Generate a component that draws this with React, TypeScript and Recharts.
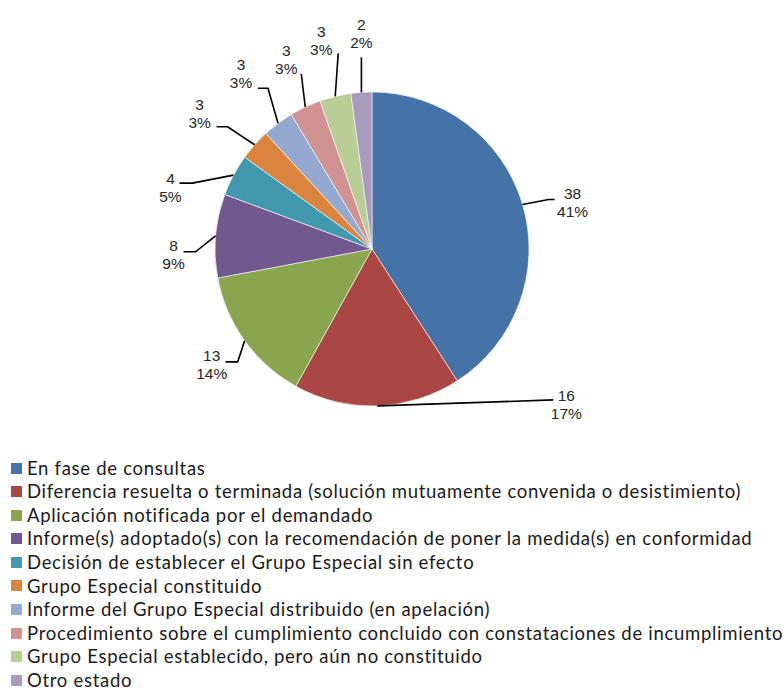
import { PieChart, Pie, Cell, Legend } from 'recharts';

const categories = [
  'En fase de consultas',
  'Diferencia resuelta o terminada (solución mutuamente convenida o desistimiento)',
  'Aplicación notificada por el demandado',
  'Informe(s) adoptado(s) con la recomendación de poner la medida(s) en conformidad',
  'Decisión de establecer el Grupo Especial sin efecto',
  'Grupo Especial constituido',
  'Informe del Grupo Especial distribuido (en apelación)',
  'Procedimiento sobre el cumplimiento concluido con constataciones de incumplimiento',
  'Grupo Especial establecido, pero aún no constituido',
  'Otro estado',
];
const counts = [38, 16, 13, 8, 4, 3, 3, 3, 3, 2];
const percentLabels = ['41%', '17%', '14%', '9%', '5%', '3%', '3%', '3%', '3%', '2%'];

const COLORS = ['#4572A7', '#AA4643', '#89A54E', '#71588F', '#4198AF', '#DB843D', '#93A9CF', '#D19392', '#B9CD96', '#A99BBD'];

// leader line layout, relative to the point on the pie edge at the slice's mid angle
const labelLayout = [
  { elbow: [26, -5], end: [32, -5], text: [50, -11] },
  { elbow: [176, -6], end: [176, -6], text: [189, -10] },
  { elbow: [-7, 21], end: [-19, 21], text: [-33, 15] },
  { elbow: [-20, 16], end: [-32, 16], text: [-42, 10] },
  { elbow: [-41, 8], end: [-54, 8], text: [-63, 3] },
  { elbow: [-27, -18], end: [-38, -18], text: [-55, -40] },
  { elbow: [-10, -35], end: [-20, -35], text: [-37, -59] },
  { elbow: [-4, -33], end: [-4, -33], text: [-19, -56] },
  { elbow: [3, -43], end: [3, -43], text: [-14, -65] },
  { elbow: [0, -35], end: [0, -35], text: [0, -68] },
];

const data = categories.map((name, i) => ({ name, value: counts[i], pct: percentLabels[i] }));

const RAD = Math.PI / 180;

const renderLabel = (props: any) => {
  const { cx, cy, midAngle, outerRadius, index } = props;
  const ex = cx + outerRadius * Math.cos(-midAngle * RAD);
  const ey = cy + outerRadius * Math.sin(-midAngle * RAD);
  const l = labelLayout[index];
  const tx = ex + l.text[0];
  const ty = ey + l.text[1];
  return (
    <g key={`lbl-${index}`}>
      <polyline
        points={`${ex},${ey} ${ex + l.elbow[0]},${ey + l.elbow[1]} ${ex + l.end[0]},${ey + l.end[1]}`}
        fill="none"
        stroke="#000"
        strokeWidth={1.6}
      />
      <text x={tx} y={ty} textAnchor="middle" dominantBaseline="central" fontFamily="'Liberation Sans', Arial, sans-serif" fontSize={15.5} fill="#262626">
        {data[index].value}
      </text>
      <text x={tx} y={ty + 18} textAnchor="middle" dominantBaseline="central" fontFamily="'Liberation Sans', Arial, sans-serif" fontSize={15.5} fill="#262626">
        {data[index].pct}
      </text>
    </g>
  );
};

const renderLegend = () => (
  <div style={{ fontFamily: 'Lato, sans-serif', fontSize: 18.5, letterSpacing: 0.7, color: '#1a1a1a' }}>
    {data.map((d, i) => (
      <div key={d.name} style={{ display: 'flex', alignItems: 'center', height: 14, marginBottom: i < data.length - 1 ? 9.6 : 0, whiteSpace: 'nowrap' }}>
        <div style={{ width: 11, height: 11, background: COLORS[i], marginRight: 5, flexShrink: 0 }} />
        <span style={{ lineHeight: 0.9 }}>{d.name}</span>
      </div>
    ))}
  </div>
);

export default function App() {
  return (
    <div style={{ position: 'absolute', left: 0, top: 0, width: 784, height: 692, background: '#fff' }}>
      <PieChart width={784} height={692} margin={{ top: 0, right: 0, bottom: 0, left: 0 }}>
        <Pie
          data={data}
          dataKey="value"
          nameKey="name"
          cx={372}
          cy={249}
          outerRadius={157}
          startAngle={90}
          endAngle={-270}
          stroke="#ffffff"
          strokeWidth={0.6}
          label={renderLabel}
          labelLine={false}
          isAnimationActive={false}
        >
          {data.map((d, i) => (
            <Cell key={`cell-${i}`} fill={COLORS[i]} />
          ))}
        </Pie>
        <Legend
          content={renderLegend}
          wrapperStyle={{ left: 11, top: 461, width: 780, bottom: 'auto' }}
        />
      </PieChart>
    </div>
  );
}
